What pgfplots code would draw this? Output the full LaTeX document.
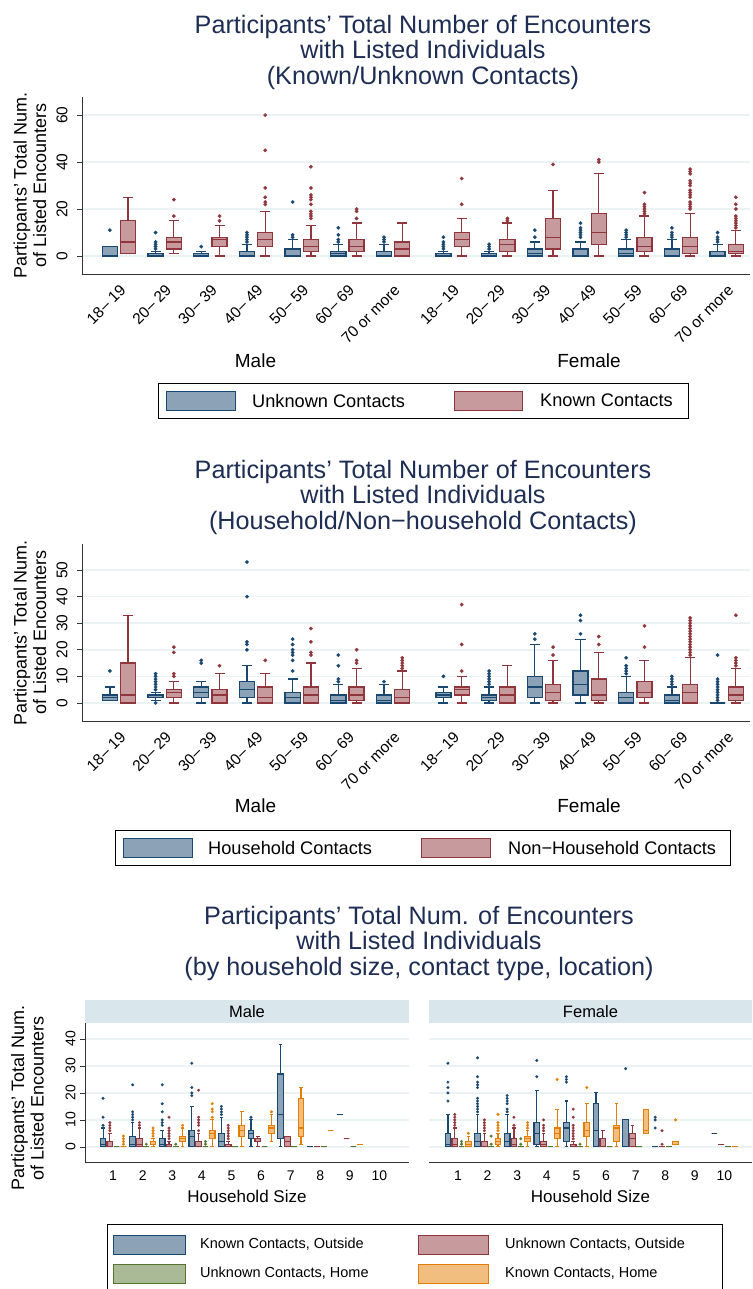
\documentclass[border=0pt]{standalone}
\usepackage{fontspec}
\setmainfont{Liberation Sans}
\usepackage{graphicx}
\usepackage{pgfplots}
\pgfplotsset{compat=1.18}
\usepgfplotslibrary{statistics}

\definecolor{cb}{HTML}{1A476F}
\definecolor{cr}{HTML}{90353B}
\definecolor{cg}{HTML}{55752F}
\definecolor{co}{HTML}{E37E00}
\definecolor{ttl}{HTML}{1E2D53}
\definecolor{gridc}{HTML}{EAF2F3}
\definecolor{stripc}{HTML}{D9E6EB}
\definecolor{axc}{HTML}{333333}

\newcommand\fs[1]{\fontsize{#1}{#1}\selectfont}

\pgfplotsset{
  stata/.style={
    scale only axis, clip=false,
    axis x line*=bottom, axis y line*=left,
    axis line style={draw=axc, line width=1pt},
    ymajorgrids, grid style={draw=gridc, line width=1.5pt},
    xtick style={draw=none},
    ytick style={draw=axc, line width=0.8pt},
    tick align=outside, major tick length=5pt,
    /pgf/number format/assume math mode=true,
    yticklabel={\rotatebox{90}{\pgfmathprintnumber{\tick}}},
    every axis y label/.style={rotate=90, anchor=center, align=center, font=\fontsize{18}{19.5}\selectfont},
  },
  pb/.style={boxplot/draw direction=y, draw=cb, line width=1.3pt, mark=*, mark size=1.8pt,
    mark options={fill=cb, draw=cb, line width=0.2pt},
    boxplot/every box/.style={fill=cb!50!white},
    boxplot/box extend=0.33, boxplot/whisker extend=0.22},
  pr/.style={boxplot/draw direction=y, draw=cr, line width=1.3pt, mark=*, mark size=1.8pt,
    mark options={fill=cr, draw=cr, line width=0.2pt},
    boxplot/every box/.style={fill=cr!50!white},
    boxplot/box extend=0.33, boxplot/whisker extend=0.22},
  q/.style={boxplot/draw direction=y, draw=#1, line width=1.1pt, mark=*, mark size=1.4pt,
    mark options={fill=#1, draw=#1, line width=0.2pt},
    boxplot/every box/.style={fill=#1!50!white},
    boxplot/box extend=0.19, boxplot/whisker extend=0.12},
}
\newcommand\bx[7]{\addplot[#1,boxplot prepared={draw position=#2,lower whisker=#3,lower quartile=#4,median=#5,upper quartile=#6,upper whisker=#7}]}

\begin{document}
\begin{tikzpicture}
\useasboundingbox (0pt,0pt) rectangle (752pt,-1289pt);

% ---------------- panel 1 ----------------
\node[align=center, font=\fontsize{25.2}{25.5}\selectfont, text=ttl] at (423pt,-52pt)
  {Participants’ Total Number of Encounters\\with Listed Individuals\\(Known/Unknown Contacts)};
\begin{axis}[stata, at={(82pt,-274pt)}, anchor=south west, width=668pt, height=177pt,
  xmin=0.19, xmax=14.81, ymin=-7.66, ymax=67.7, ytick={0,20,40,60},
  yticklabel style={font=\fs{15.5}, xshift=-6pt},
  xtick={1,2,3,4,5,6,7,8.3,9.3,10.3,11.3,12.3,13.3,14.3},
  xticklabels={18– 19,20– 29,30– 39,40– 49,50– 59,60– 69,70 or more,18– 19,20– 29,30– 39,40– 49,50– 59,60– 69,70 or more},
  xticklabel style={rotate=45, anchor=north east, font=\fs{15.5}},
  ylabel={Particpants' Total Num.\\of Listed Encounters},
  ylabel style={at={(axis description cs:-0.078,0.5)}}]
\bx{pb}{0.8}{0}{0}{0}{4}{4} coordinates {(0,11)};
\bx{pr}{1.2}{1}{1}{6}{15}{25} coordinates {};
\bx{pb}{1.8}{0}{0}{0}{1}{2} coordinates {(0,3)(0,4)(0,5)(0,6)(0,10)};
\bx{pr}{2.2}{1}{3}{6}{8}{15} coordinates {(0,17)(0,24)};
\bx{pb}{2.8}{0}{0}{0}{1}{2} coordinates {(0,4)};
\bx{pr}{3.2}{0}{4}{7}{8}{13} coordinates {(0,15)(0,17)};
\bx{pb}{3.8}{0}{0}{0}{2}{5} coordinates {(0,6)(0,7)(0,8)(0,9)(0,10)};
\bx{pr}{4.2}{0}{4}{7}{10}{19} coordinates {(0,22)(0,23)(0,25)(0,29)(0,45)(0,60)};
\bx{pb}{4.8}{0}{0}{0}{3}{7} coordinates {(0,8)(0,9)(0,23)};
\bx{pr}{5.2}{0}{2}{4}{7}{13} coordinates {(0,16)(0,17)(0,18)(0,19)(0,22)(0,24)(0,25)(0,26)(0,29)(0,38)};
\bx{pb}{5.8}{0}{0}{1}{2}{5} coordinates {(0,6)(0,7)(0,9)(0,12)};
\bx{pr}{6.2}{0}{2}{4}{7}{14} coordinates {(0,16)(0,19)(0,20)};
\bx{pb}{6.8}{0}{0}{0}{2}{5} coordinates {(0,6)(0,7)(0,8)};
\bx{pr}{7.2}{0}{0}{3}{6}{14} coordinates {};
\bx{pb}{8.1}{0}{0}{0}{1}{2} coordinates {(0,3)(0,4)(0,5)(0,6)(0,8)};
\bx{pr}{8.5}{0}{4}{7}{10}{16} coordinates {(0,22)(0,33)};
\bx{pb}{9.1}{0}{0}{0}{1}{2} coordinates {(0,3)(0,4)(0,5)};
\bx{pr}{9.5}{0}{2}{5}{7}{14} coordinates {(0,15)(0,16)};
\bx{pb}{10.1}{0}{0}{1}{3}{6} coordinates {(0,8)(0,11)};
\bx{pr}{10.5}{0}{3}{8}{16}{28} coordinates {(0,39)};
\bx{pb}{11.1}{0}{0}{0}{3}{6} coordinates {(0,8)(0,9)(0,10)(0,11)(0,12)(0,14)};
\bx{pr}{11.5}{0}{5}{10}{18}{35} coordinates {(0,40)(0,41)};
\bx{pb}{12.1}{0}{0}{1}{3}{7} coordinates {(0,8)(0,9)(0,10)(0,11)};
\bx{pr}{12.5}{0}{2}{4}{8}{17} coordinates {(0,18)(0,19)(0,20)(0,21)(0,22)(0,27)};
\bx{pb}{13.1}{0}{0}{0}{3}{7} coordinates {(0,8)(0,9)(0,10)(0,12)};
\bx{pr}{13.5}{0}{1}{4}{8}{18} coordinates {(0,20)(0,21)(0,22)(0,23)(0,25)(0,26)(0,27)(0,28)(0,30)(0,31)(0,32)(0,35)(0,36)(0,37)};
\bx{pb}{14.1}{0}{0}{0}{2}{5} coordinates {(0,6)(0,7)(0,8)(0,10)};
\bx{pr}{14.5}{0}{1}{2}{5}{11} coordinates {(0,12)(0,13)(0,14)(0,15)(0,16)(0,17)(0,20)(0,22)(0,25)};
\end{axis}
\node[font=\fs{19}] at (255.5pt,-361pt) {Male};
\node[font=\fs{19}] at (589pt,-361pt) {Female};
\draw[black, line width=0.8pt] (158pt,-383pt) rectangle (688pt,-418pt);
\draw[cb, fill=cb!50!white, line width=1pt] (166pt,-391pt) rectangle (235pt,-410pt);
\node[anchor=west, inner sep=0pt, font=\fs{18.2}] at (252pt,-400.5pt) {Unknown Contacts};
\draw[cr, fill=cr!50!white, line width=1pt] (454pt,-391pt) rectangle (522pt,-410pt);
\node[anchor=west, inner sep=0pt, font=\fs{18.2}] at (540pt,-400.5pt) {Known Contacts};

% ---------------- panel 2 ----------------
\node[align=center, font=\fontsize{25.2}{25.5}\selectfont, text=ttl] at (423pt,-497pt)
  {Participants’ Total Number of Encounters\\with Listed Individuals\\(Household/Non−household Contacts)};
\begin{axis}[stata, at={(82pt,-721pt)}, anchor=south west, width=668pt, height=177pt,
  xmin=0.19, xmax=14.81, ymin=-6.8, ymax=59.8, ytick={0,10,20,30,40,50},
  yticklabel style={font=\fs{15.5}, xshift=-6pt},
  xtick={1,2,3,4,5,6,7,8.3,9.3,10.3,11.3,12.3,13.3,14.3},
  xticklabels={18– 19,20– 29,30– 39,40– 49,50– 59,60– 69,70 or more,18– 19,20– 29,30– 39,40– 49,50– 59,60– 69,70 or more},
  xticklabel style={rotate=45, anchor=north east, font=\fs{15.5}},
  ylabel={Particpants' Total Num.\\of Listed Encounters},
  ylabel style={at={(axis description cs:-0.078,0.5)}}]
\bx{pb}{0.8}{1}{1}{2}{3}{6} coordinates {(0,12)};
\bx{pr}{1.2}{0}{0}{3}{15}{33} coordinates {};
\bx{pb}{1.8}{1}{2}{2}{3}{4} coordinates {(0,0)(0,5)(0,6)(0,7)(0,8)(0,9)(0,10)(0,11)};
\bx{pr}{2.2}{0}{2}{4}{5}{8} coordinates {(0,10)(0,11)(0,19)(0,21)};
\bx{pb}{2.8}{0}{2}{4}{6}{8} coordinates {(0,15)(0,16)};
\bx{pr}{3.2}{0}{0}{3}{5}{11} coordinates {(0,14)};
\bx{pb}{3.8}{0}{2}{5}{8}{14} coordinates {(0,20)(0,22)(0,23)(0,40)(0,53)};
\bx{pr}{4.2}{0}{0}{2}{6}{11} coordinates {(0,16)};
\bx{pb}{4.8}{0}{0}{2}{4}{9} coordinates {(0,12)(0,16)(0,18)(0,19)(0,20)(0,22)(0,24)};
\bx{pr}{5.2}{0}{0}{3}{6}{15} coordinates {(0,18)(0,19)(0,23)(0,28)};
\bx{pb}{5.8}{0}{0}{1}{3}{7} coordinates {(0,8)(0,9)(0,14)(0,18)};
\bx{pr}{6.2}{0}{1}{3}{6}{13} coordinates {(0,15)(0,16)(0,20)};
\bx{pb}{6.8}{0}{0}{1}{3}{7} coordinates {(0,8)};
\bx{pr}{7.2}{0}{0}{2}{5}{12} coordinates {(0,13)(0,14)(0,15)(0,16)(0,17)};
\bx{pb}{8.1}{0}{2}{3}{4}{6} coordinates {(0,10)};
\bx{pr}{8.5}{0}{3}{5}{6}{10} coordinates {(0,12)(0,22)(0,37)};
\bx{pb}{9.1}{0}{1}{2}{3}{6} coordinates {(0,7)(0,8)(0,9)(0,10)(0,11)(0,12)};
\bx{pr}{9.5}{0}{0}{3}{6}{14} coordinates {};
\bx{pb}{10.1}{0}{2}{6}{10}{22} coordinates {(0,24)(0,26)};
\bx{pr}{10.5}{0}{1}{4}{7}{16} coordinates {(0,18)(0,21)};
\bx{pb}{11.1}{0}{3}{7}{12}{24} coordinates {(0,26)(0,31)(0,33)};
\bx{pr}{11.5}{0}{1}{3}{9}{19} coordinates {(0,22)(0,25)};
\bx{pb}{12.1}{0}{0}{2}{4}{10} coordinates {(0,11)(0,12)(0,13)(0,14)(0,17)};
\bx{pr}{12.5}{0}{2}{4}{8}{16} coordinates {(0,21)(0,29)};
\bx{pb}{13.1}{0}{0}{1}{3}{6} coordinates {(0,7)(0,8)(0,9)(0,10)};
\bx{pr}{13.5}{0}{0}{4}{7}{17} coordinates {(0,18)(0,19)(0,20)(0,21)(0,22)(0,23)(0,24)(0,25)(0,26)(0,27)(0,28)(0,29)(0,30)(0,31)(0,32)};
\bx{pb}{14.1}{0}{0}{0}{0}{0} coordinates {(0,1)(0,2)(0,3)(0,4)(0,5)(0,6)(0,7)(0,8)(0,9)(0,18)};
\bx{pr}{14.5}{0}{1}{3}{6}{13} coordinates {(0,14)(0,15)(0,16)(0,17)(0,33)};
\end{axis}
\node[font=\fs{19}] at (255.5pt,-806pt) {Male};
\node[font=\fs{19}] at (589pt,-806pt) {Female};
\draw[black, line width=0.8pt] (115pt,-830pt) rectangle (730pt,-865pt);
\draw[cb, fill=cb!50!white, line width=1pt] (123pt,-838pt) rectangle (192pt,-857pt);
\node[anchor=west, inner sep=0pt, font=\fs{18.2}] at (208pt,-847.5pt) {Household Contacts};
\draw[cr, fill=cr!50!white, line width=1pt] (421pt,-838pt) rectangle (490pt,-857pt);
\node[anchor=west, inner sep=0pt, font=\fs{18.2}] at (508pt,-847.5pt) {Non−Household Contacts};

% ---------------- panel 3 ----------------
\node[align=center, font=\fontsize{25.2}{25.5}\selectfont, text=ttl] at (419pt,-943pt)
  {Participants’ Total Num. of Encounters\\with Listed Individuals\\(by household size, contact type, location)};
\fill[stripc] (85pt,-1000pt) rectangle (409pt,-1023pt);
\node[font=\fs{16.5}] at (247pt,-1011.5pt) {Male};
\fill[stripc] (429pt,-1000pt) rectangle (752pt,-1023pt);
\node[font=\fs{16.5}] at (590.5pt,-1011.5pt) {Female};
\begin{axis}[stata, at={(85pt,-1162pt)}, anchor=south west, width=324pt, height=139pt,
  xmin=0.05, xmax=11, ymin=-5.6, ymax=45.9, ytick={0,10,20,30,40},
  yticklabel style={font=\fs{14}, xshift=-1pt},
  xtick={1,...,10}, xticklabel style={font=\fs{14}},
  xlabel={Household Size}, xlabel style={font=\fs{17}, at={(axis description cs:0.5,-0.245)}, anchor=center},
  ylabel={Particpants' Total Num.\\of Listed Encounters},
  ylabel style={at={(axis description cs:-0.1775,0.46)}}]
\bx{q=cb}{0.66}{0}{0}{1}{3}{7} coordinates {(0,8)(0,11)(0,18)};
\bx{q=cr}{0.89}{0}{0}{0}{2}{5} coordinates {(0,6)(0,7)(0,8)(0,9)};
\bx{q=cg}{1.12}{0}{0}{0}{0}{0} coordinates {};
\bx{q=co}{1.35}{0}{0}{0}{0}{0} coordinates {(0,1)(0,2)(0,3)(0,4)};
\bx{q=cb}{1.66}{0}{0}{1}{4}{9} coordinates {(0,10)(0,11)(0,12)(0,13)(0,23)};
\bx{q=cr}{1.89}{0}{0}{1}{3}{7} coordinates {(0,8)(0,9)};
\bx{q=cg}{2.12}{0}{0}{0}{0}{0} coordinates {(0,1)};
\bx{q=co}{2.35}{0}{1}{2}{2}{3} coordinates {(0,4)(0,5)(0,6)(0,7)};
\bx{q=cb}{2.66}{0}{0}{1}{3}{6} coordinates {(0,8)(0,9)(0,10)(0,13)(0,16)(0,23)};
\bx{q=cr}{2.89}{0}{0}{0}{1}{2} coordinates {(0,3)(0,4)(0,5)(0,6)(0,7)(0,11)};
\bx{q=cg}{3.12}{0}{0}{0}{0}{0} coordinates {(0,1)};
\bx{q=co}{3.35}{0}{2}{3}{4}{7} coordinates {(0,8)};
\bx{q=cb}{3.66}{0}{0}{4}{6}{15} coordinates {(0,19)(0,20)(0,22)(0,31)};
\bx{q=cr}{3.89}{0}{0}{0}{2}{5} coordinates {(0,6)(0,8)(0,9)(0,10)(0,11)(0,21)};
\bx{q=cg}{4.12}{0}{0}{0}{0}{0} coordinates {(0,1)(0,2)};
\bx{q=co}{4.35}{0}{3}{5}{6}{10} coordinates {(0,11)(0,13)(0,14)(0,16)};
\bx{q=cb}{4.66}{0}{0}{2}{5}{11} coordinates {(0,12)(0,13)(0,14)(0,15)};
\bx{q=cr}{4.89}{0}{0}{0}{1}{2} coordinates {(0,3)(0,4)(0,5)(0,6)(0,7)(0,8)};
\bx{q=cg}{5.12}{0}{0}{0}{0}{0} coordinates {};
\bx{q=co}{5.35}{0}{4}{6}{8}{13} coordinates {};
\bx{q=cb}{5.66}{0}{3}{5}{6}{10} coordinates {(0,11)};
\bx{q=cr}{5.89}{0}{2}{2}{3}{4} coordinates {};
\bx{q=cg}{6.12}{0}{0}{0}{0}{0} coordinates {};
\bx{q=co}{6.35}{2}{5}{7}{8}{12} coordinates {(0,13)};
\bx{q=cb}{6.66}{0}{3}{12}{27}{38} coordinates {};
\bx{q=cr}{6.89}{0}{0}{2}{4}{4} coordinates {};
\bx{q=cg}{7.12}{0}{0}{0}{0}{0} coordinates {};
\bx{q=co}{7.35}{1}{4}{7}{18}{22} coordinates {};
\bx{q=cb}{7.66}{0}{0}{0}{0}{0} coordinates {};
\bx{q=cr}{7.89}{0}{0}{0}{0}{0} coordinates {};
\bx{q=cg}{8.12}{0}{0}{0}{0}{0} coordinates {};
\bx{q=co}{8.35}{6}{6}{6}{6}{6} coordinates {};
\bx{q=cb}{8.66}{12}{12}{12}{12}{12} coordinates {};
\bx{q=cr}{8.89}{3}{3}{3}{3}{3} coordinates {};
\bx{q=cg}{9.12}{0}{0}{0}{0}{0} coordinates {};
\bx{q=co}{9.35}{1}{1}{1}{1}{1} coordinates {};
\end{axis}
\begin{axis}[stata, at={(429pt,-1162pt)}, anchor=south west, width=323pt, height=139pt,
  xmin=0.02, xmax=10.93, ymin=-5.6, ymax=45.9, ytick={0,10,20,30,40},
  y axis line style={draw=none}, ytick style={draw=none}, yticklabels={},
  xtick={1,...,10}, xticklabel style={font=\fs{14}},
  xlabel={Household Size}, xlabel style={font=\fs{17}, at={(axis description cs:0.5,-0.245)}, anchor=center}]
\bx{q=cb}{0.66}{0}{0}{1}{5}{12} coordinates {(0,17)(0,20)(0,22)(0,24)(0,31)};
\bx{q=cr}{0.89}{0}{0}{1}{3}{7} coordinates {(0,8)(0,9)(0,10)(0,11)(0,12)};
\bx{q=cg}{1.12}{0}{0}{0}{0}{0} coordinates {(0,1)(0,2)};
\bx{q=co}{1.35}{0}{0}{1}{2}{4} coordinates {(0,5)};
\bx{q=cb}{1.66}{0}{0}{2}{5}{12} coordinates {(0,13)(0,14)(0,15)(0,16)(0,17)(0,18)(0,22)(0,23)(0,24)(0,26)(0,33)};
\bx{q=cr}{1.89}{0}{0}{0}{2}{5} coordinates {(0,6)(0,7)(0,8)(0,9)(0,10)};
\bx{q=cg}{2.12}{0}{0}{0}{0}{0} coordinates {(0,1)(0,4)};
\bx{q=co}{2.35}{0}{1}{2}{3}{5} coordinates {(0,6)(0,7)(0,8)(0,9)(0,12)};
\bx{q=cb}{2.66}{0}{0}{2}{5}{12} coordinates {(0,13)(0,14)(0,16)(0,17)(0,18)(0,19)};
\bx{q=cr}{2.89}{0}{0}{1}{3}{7} coordinates {(0,8)(0,11)};
\bx{q=cg}{3.12}{0}{0}{0}{0}{0} coordinates {(0,1)(0,3)};
\bx{q=co}{3.35}{0}{2}{3}{4}{6} coordinates {(0,7)(0,8)(0,9)};
\bx{q=cb}{3.66}{0}{1}{5}{9}{21} coordinates {(0,26)(0,32)};
\bx{q=cr}{3.89}{0}{0}{1}{2}{5} coordinates {(0,6)(0,7)(0,8)(0,10)};
\bx{q=cg}{4.12}{0}{0}{0}{0}{0} coordinates {};
\bx{q=co}{4.35}{0}{3}{5}{7}{14} coordinates {(0,25)};
\bx{q=cb}{4.66}{0}{2}{7}{9}{17} coordinates {(0,24)(0,25)(0,26)};
\bx{q=cr}{4.89}{0}{0}{0}{1}{2} coordinates {(0,3)(0,4)(0,5)(0,6)(0,7)(0,8)(0,11)(0,14)};
\bx{q=cg}{5.12}{0}{0}{0}{0}{0} coordinates {(0,1)};
\bx{q=co}{5.35}{0}{4}{6}{9}{16} coordinates {(0,22)};
\bx{q=cb}{5.66}{0}{0}{6}{16}{20} coordinates {};
\bx{q=cr}{5.89}{0}{0}{0}{3}{6} coordinates {};
\bx{q=cg}{6.12}{0}{0}{0}{0}{0} coordinates {};
\bx{q=co}{6.35}{0}{2}{7}{8}{16} coordinates {};
\bx{q=cb}{6.66}{0}{0}{0}{10}{10} coordinates {(0,29)};
\bx{q=cr}{6.89}{0}{0}{3}{5}{8} coordinates {};
\bx{q=cg}{7.12}{0}{0}{0}{0}{0} coordinates {};
\bx{q=co}{7.35}{5}{5}{6}{14}{14} coordinates {};
\bx{q=cb}{7.66}{0}{0}{0}{0}{0} coordinates {(0,7)(0,10)(0,11)};
\bx{q=cr}{7.89}{0}{0}{0}{0}{0} coordinates {(0,1)(0,6)};
\bx{q=cg}{8.12}{0}{0}{0}{0}{0} coordinates {};
\bx{q=co}{8.35}{1}{1}{2}{2}{2} coordinates {(0,10)};
\bx{q=cb}{9.66}{5}{5}{5}{5}{5} coordinates {};
\bx{q=cr}{9.89}{1}{1}{1}{1}{1} coordinates {};
\bx{q=cg}{10.12}{0}{0}{0}{0}{0} coordinates {};
\bx{q=co}{10.35}{0}{0}{0}{0}{0} coordinates {};
\end{axis}
\draw[black, line width=0.8pt] (107pt,-1224pt) rectangle (722pt,-1292pt);
\draw[cb, fill=cb!50!white, line width=1pt] (113pt,-1235pt) rectangle (185pt,-1254pt);
\node[anchor=west, inner sep=0pt, font=\fs{14.5}] at (200pt,-1244.5pt) {Known Contacts, Outside};
\draw[cr, fill=cr!50!white, line width=1pt] (418pt,-1235pt) rectangle (488pt,-1254pt);
\node[anchor=west, inner sep=0pt, font=\fs{14.5}] at (505pt,-1244.5pt) {Unknown Contacts, Outside};
\draw[cg, fill=cg!50!white, line width=1pt] (113pt,-1264pt) rectangle (185pt,-1283pt);
\node[anchor=west, inner sep=0pt, font=\fs{14.5}] at (200pt,-1273.5pt) {Unknown Contacts, Home};
\draw[co, fill=co!50!white, line width=1pt] (418pt,-1264pt) rectangle (488pt,-1283pt);
\node[anchor=west, inner sep=0pt, font=\fs{14.5}] at (505pt,-1273.5pt) {Known Contacts, Home};
\end{tikzpicture}
\end{document}
